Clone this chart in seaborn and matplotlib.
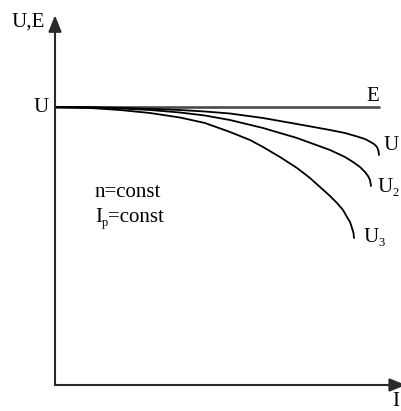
import matplotlib
matplotlib.use("Agg")
import matplotlib.pyplot as plt
import seaborn as sns
import pandas as pd

# External characteristics of a generator: terminal voltage vs load current
# E: no-load EMF (constant), U1..U3: terminal voltage curves
current_u1 = [0, 3.5, 6.5, 9.5, 12.5, 15.0, 17.5, 20.8, 24.2, 27.5, 29.0,
              30.2, 31.0, 31.5, 31.9, 32.2, 32.35, 32.4]
voltage_u1 = [100.0, 99.93, 99.71, 99.35, 98.92, 98.38, 97.66, 96.04, 93.88,
              91.73, 90.65, 89.39, 88.49, 87.52, 86.69, 85.61, 84.17, 82.73]

current_u2 = [0, 3.5, 6.5, 9.5, 12.5, 15.0, 17.5, 20.8, 24.2, 27.5, 29.0,
              29.8, 30.5, 31.0, 31.3, 31.5, 31.6]
voltage_u2 = [100.0, 99.86, 99.46, 98.92, 98.02, 96.94, 95.32, 92.45, 88.85,
              84.53, 82.01, 80.22, 78.42, 76.62, 75.18, 73.74, 71.58]

current_u3 = [0, 3.5, 6.5, 9.5, 12.5, 15.0, 17.5, 19.5, 20.8, 22.5, 24.2,
              25.5, 26.5, 27.5, 28.2, 28.8, 29.2, 29.5, 29.7, 29.85, 29.9]
voltage_u3 = [100.0, 99.64, 98.92, 97.84, 96.22, 94.24, 91.01, 88.13, 85.61,
              82.01, 78.06, 74.46, 71.22, 67.99, 65.47, 62.95, 60.43, 58.63,
              56.47, 54.68, 52.88]

emf_current = [0, 32.4]
emf_value = [100, 100]

curve_names = ["U1", "U2", "U3"]

sns.set_theme(style="white")
plt.rcParams["font.family"] = ["Liberation Serif", "DejaVu Serif"]
plt.rcParams["text.color"] = "black"

frames = []
for name, cur, vol in zip(curve_names,
                          [current_u1, current_u2, current_u3],
                          [voltage_u1, voltage_u2, voltage_u3]):
    frames.append(pd.DataFrame({"I": cur, "U": vol, "curve": name}))
curves = pd.concat(frames, ignore_index=True)
emf = pd.DataFrame({"I": emf_current, "U": emf_value})

fig = plt.figure(figsize=(4.01, 4.11), dpi=100)
W, H = 401, 411
x0, y0 = 55, 385          # origin of the axes in pixels
x_max, u_max = 34.6, 133  # data range shown
px_per_i, px_per_u = 10.0, 2.78
ax = fig.add_axes([x0 / W, (H - y0) / H,
                   x_max * px_per_i / W, u_max * px_per_u / H])
ax.set_xlim(0, x_max)
ax.set_ylim(0, u_max)
ax.set_axis_off()

sns.lineplot(data=emf, x="I", y="U", ax=ax, color="#4a4a4a", lw=1.9,
             estimator=None, sort=False, legend=False)
sns.lineplot(data=curves, x="I", y="U", hue="curve", units="curve",
             palette=["black"] * 3, ax=ax, lw=1.3, estimator=None,
             sort=False, legend=False)

# axes with arrow heads
arrow = dict(arrowstyle="-|>,head_length=0.55,head_width=0.22",
             color="#2a2a2a", lw=1.5, mutation_scale=18,
             shrinkA=0, shrinkB=0)
ax.annotate("", xy=(35.1, 0), xytext=(0, 0), arrowprops=arrow,
            annotation_clip=False)
ax.annotate("", xy=(0, u_max), xytext=(0, 0), arrowprops=arrow,
            annotation_clip=False)

fs = 15
sub = 9


def label_with_sub(x, y, main, low, gap):
    ax.text(x, y, main, fontsize=fs, ha="left", va="center")
    ax.annotate(low, xy=(x, y), xytext=(gap, -4), textcoords="offset points",
                fontsize=sub, ha="left", va="center", annotation_clip=False)


ax.text(-2.7, 130.6, "U,E", fontsize=fs, ha="center", va="center")
ax.text(-0.6, 100, "U", fontsize=fs, ha="right", va="center")
ax.text(31.8, 103.6, "E", fontsize=fs, ha="center", va="center")
ax.text(32.9, 86.0, "U", fontsize=fs, ha="left", va="center")
label_with_sub(32.2, 71.2, "U", "2", 10.8)
label_with_sub(30.8, 53.2, "U", "3", 10.8)
ax.text(4.0, 69.4, "n=const", fontsize=fs, ha="left", va="center")
label_with_sub(4.0, 60.4, "I", "p", 4.6)
ax.annotate("=const", xy=(4.0, 60.4), xytext=(9.2, 0),
            textcoords="offset points", fontsize=fs, ha="left", va="center")
ax.text(34.1, -5.8, "I", fontsize=fs, ha="center", va="center")

fig.savefig("out.png", dpi=100)
